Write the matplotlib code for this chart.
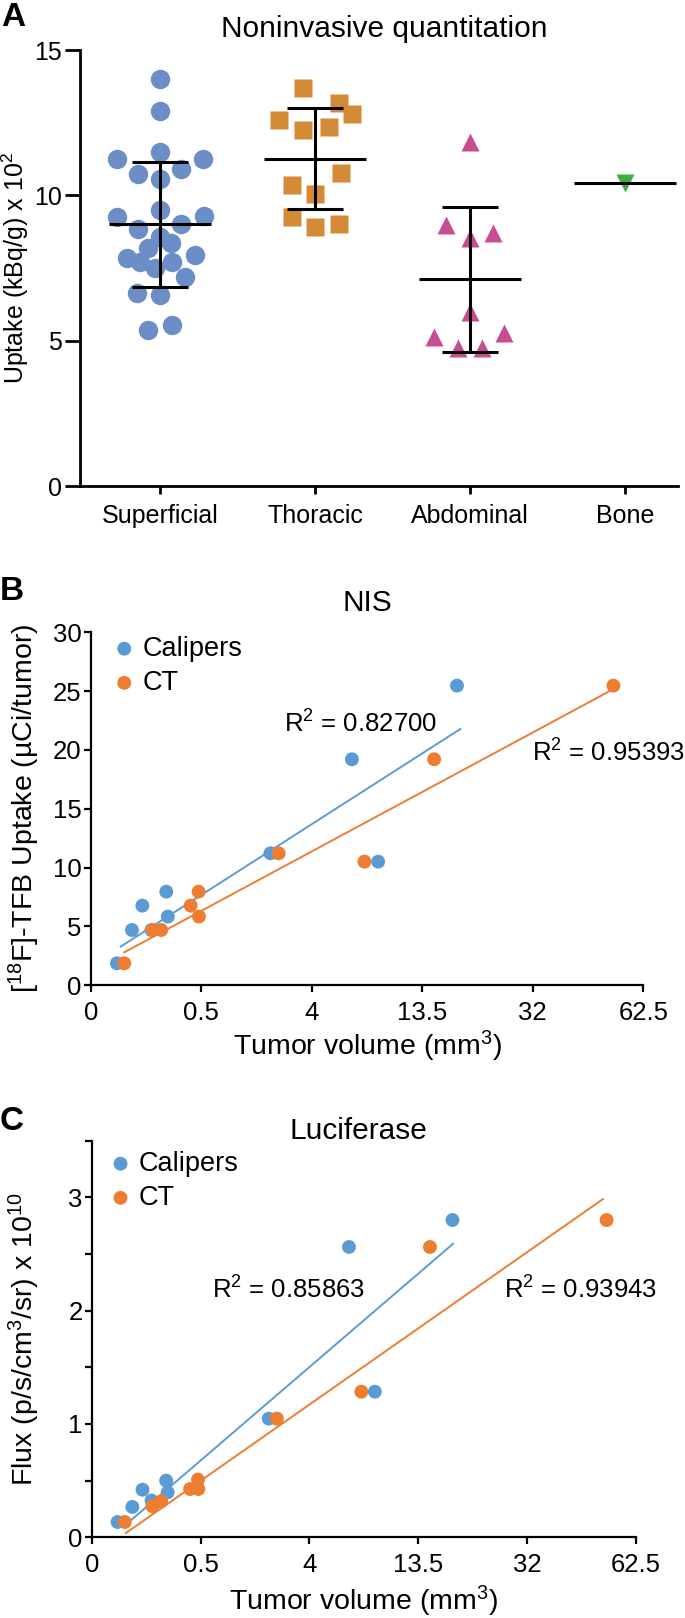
import numpy as np
import matplotlib
matplotlib.use('Agg')
import matplotlib.pyplot as plt

plt.rcParams['font.family'] = ['Liberation Sans', 'DejaVu Sans']
plt.rcParams['mathtext.fontset'] = 'custom'
plt.rcParams['mathtext.rm'] = 'Liberation Sans'
plt.rcParams['mathtext.it'] = 'Liberation Sans:italic'
plt.rcParams['mathtext.bf'] = 'Liberation Sans:bold'

# ---- panel A: uptake per site (kBq/g x 10^2) ----
groups = ['Superficial', 'Thoracic', 'Abdominal', 'Bone']
superficial = [14.0, 12.9, 11.5, 11.24, 11.24, 10.73, 10.89, 10.55, 9.26, 9.49, 9.29,
               8.83, 9.01, 8.58, 8.35, 8.18, 7.83, 7.72, 7.49, 7.72, 7.95, 7.2,
               6.63, 6.57, 5.54, 5.37]
thoracic = [13.68, 13.19, 12.8, 12.59, 12.25, 12.36, 10.76, 10.35, 10.03, 9.26, 8.92, 9.01]
abdominal = [11.83, 8.99, 8.53, 8.71, 6.0, 5.13, 5.27, 4.75, 4.75]
bone = [10.41]

# horizontal scatter of the points inside each column (category units)
superficial_dx = [0, 0, 0, -0.275, 0.275, -0.14, 0.135, 0, -0.275, 0, 0.286,
                  -0.14, 0.135, 0, 0.07, -0.075, -0.215, -0.13, -0.03, 0.08, 0.225, 0.16,
                  -0.15, 0, 0.075, -0.075]
thoracic_dx = [-0.076, 0.154, 0.24, -0.234, -0.076, 0.09, 0.165, -0.147, 0.003, -0.147, 0.003, 0.154]
abdominal_dx = [0, -0.155, 0, 0.146, 0, -0.234, 0.221, -0.08, 0.075]
bone_dx = [0]

# ---- panels B and C: uptake / flux vs tumor volume (mm^3) ----
vol_calipers = [0.0067, 0.026, 0.051, 0.083, 0.16, 0.17, 2.15, 6.6, 8.8, 18.2]
vol_ct = [0.014, 0.087, 0.13, 0.37, 0.465, 0.47, 2.46, 7.6, 15.0, 52.9]
nis_calipers = [1.87, 4.70, 6.77, 4.70, 7.96, 5.84, 11.22, 19.21, 10.51, 25.47]
nis_ct = [1.87, 4.70, 4.70, 6.77, 7.96, 5.84, 11.22, 10.51, 19.21, 25.47]
luc_calipers = [0.135, 0.268, 0.42, 0.324, 0.5, 0.397, 1.047, 2.562, 1.285, 2.8]
luc_ct = [0.135, 0.274, 0.318, 0.426, 0.509, 0.426, 1.047, 1.285, 2.562, 2.8]

# trend line end points (volume, value)
nis_fit_calipers = ([0.010, 18.7], [3.29, 21.78])
nis_fit_ct = ([0.014, 52.4], [2.80, 25.1])
luc_fit_calipers = ([0.013, 18.3], [0.097, 2.591])
luc_fit_ct = ([0.0156, 51.8], [0.038, 2.985])

vol_ticks = [0, 0.5, 4, 13.5, 32, 62.5]
vol_ticklabels = ['0', '0.5', '4', '13.5', '32', '62.5']

blue = '#5B9BD5'
orange = '#ED7D31'

fig = plt.figure(figsize=(6.85, 16.18), dpi=100)
W, H = 685.0, 1618.0


def rect(left, top, right, bottom):
    return [left / W, 1 - bottom / H, (right - left) / W, (bottom - top) / H]


# ================= A =================
axA = fig.add_axes(rect(80, 50, 678, 486))
series = [superficial, thoracic, abdominal, bone]
offsets = [superficial_dx, thoracic_dx, abdominal_dx, bone_dx]
markers = ['o', 's', '^', 'v']
colorsA = ['#6C8EC7', '#D48B37', '#C84C92', '#3FAE45']
msizes = [14, 13.6, 13.2, 13.2]
for i, (vals, dx) in enumerate(zip(series, offsets)):
    axA.plot(i + np.array(dx), vals, ls='none', marker=markers[i], ms=msizes[i],
             mfc=colorsA[i], mec='none', zorder=2, clip_on=False)
    m = np.mean(vals)
    axA.hlines(m, i - 0.33, i + 0.33, color='black', lw=2.2, zorder=3, clip_on=False)
    if len(vals) > 1:
        sd = np.std(vals, ddof=1)
        axA.vlines(i, m - sd, m + sd, color='black', lw=2.2, zorder=3)
        axA.hlines([m - sd, m + sd], i - 0.18, i + 0.18, color='black', lw=2.2, zorder=3)

axA.set_xlim(-0.516, 3.342)
axA.set_ylim(0, 15)
axA.set_yticks([0, 5, 10, 15])
axA.set_xticks(range(len(groups)))
axA.set_xticklabels(groups)
for s in ['top', 'right']:
    axA.spines[s].set_visible(False)
for s in ['left', 'bottom']:
    axA.spines[s].set_linewidth(2)
axA.tick_params(axis='y', length=10.8, width=2, pad=2, labelsize=18)
axA.tick_params(axis='x', length=5.8, width=2, pad=7, labelsize=18)
axA.set_ylabel('Uptake (kBq/g) x 10$^{2}$', fontsize=18, va='center')
axA.yaxis.set_label_coords(-0.108, 0.5)
axA.text(0.508, 1.048, 'Noninvasive quantitation', transform=axA.transAxes,
         ha='center', va='center', fontsize=21.5)


# ================= B and C =================
def cube_fwd(v):
    return np.cbrt(2 * np.asarray(v, dtype=float))


def cube_inv(p):
    return np.asarray(p, dtype=float) ** 3 / 2


def volume_panel(ax, y_cal, y_ct, fit_cal, fit_ct):
    ax.set_xscale('function', functions=(cube_fwd, cube_inv))
    ax.plot(fit_cal[0], fit_cal[1], color=blue, lw=1.4, zorder=2)
    ax.plot(fit_ct[0], fit_ct[1], color=orange, lw=1.4, zorder=2)
    ax.scatter(vol_calipers, y_cal, s=100, color=blue, edgecolors='none', zorder=3,
               label='Calipers', clip_on=False)
    ax.scatter(vol_ct, y_ct, s=100, color=orange, edgecolors='none', zorder=4,
               label='CT', clip_on=False)
    ax.set_xlim(0, 62.5)
    ax.set_xticks(vol_ticks)
    ax.set_xticklabels(vol_ticklabels)
    for s in ['top', 'right']:
        ax.spines[s].set_visible(False)
    for s in ['left', 'bottom']:
        ax.spines[s].set_linewidth(1.6)
    ax.tick_params(axis='y', length=5, width=1.6, pad=1.5, labelsize=18.5)
    ax.tick_params(axis='x', length=5, width=1.6, pad=6, labelsize=18.5)
    ax.set_xlabel('Tumor volume (mm$^{3}$)', fontsize=20.5, va='center')


axB = fig.add_axes(rect(90.7, 632.3, 643.3, 985.3))
volume_panel(axB, nis_calipers, nis_ct, nis_fit_calipers, nis_fit_ct)
axB.set_ylim(0, 30)
axB.set_yticks(range(0, 31, 5))
axB.set_ylabel('[$^{18}$F]-TFB Uptake (µCi/tumor)', fontsize=20.5, va='center')
axB.yaxis.set_label_coords(-0.12, 0.5)
axB.xaxis.set_label_coords(0.5, -0.174)
axB.text(0.501, 1.083, 'NIS', transform=axB.transAxes, ha='center', va='center', fontsize=21.5)
axB.text(0.35, 0.74, 'R$^{2}$ = 0.82700', transform=axB.transAxes, ha='left', va='center', fontsize=18.5)
axB.text(0.798, 0.657, 'R$^{2}$ = 0.95393', transform=axB.transAxes, ha='left', va='center',
         fontsize=18.5, clip_on=False)
axB.legend(loc='upper left', bbox_to_anchor=(0.046, 0.99), frameon=False, fontsize=19.5,
           handlelength=0.6, handletextpad=0.38, borderpad=0, borderaxespad=0,
           labelspacing=0.3, scatterpoints=1)

axC = fig.add_axes(rect(91.7, 1140.7, 636, 1537.3))
volume_panel(axC, luc_calipers, luc_ct, luc_fit_calipers, luc_fit_ct)
axC.set_ylim(0, 3.5)
axC.set_yticks(np.arange(0, 3.51, 0.5))
axC.set_yticklabels(['0', '', '1', '', '2', '', '3', ''])
axC.set_ylabel('Flux (p/s/cm$^{3}$/sr) x 10$^{10}$', fontsize=20.5, va='center')
axC.yaxis.set_label_coords(-0.124, 0.5)
axC.xaxis.set_label_coords(0.5, -0.161)
axC.text(0.49, 1.024, 'Luciferase', transform=axC.transAxes, ha='center', va='center', fontsize=21.5)
axC.text(0.2216, 0.624, 'R$^{2}$ = 0.85863', transform=axC.transAxes, ha='left', va='center', fontsize=18.5)
axC.text(0.758, 0.624, 'R$^{2}$ = 0.93943', transform=axC.transAxes, ha='left', va='center', fontsize=18.5)
axC.legend(loc='upper left', bbox_to_anchor=(0.038, 0.9745), frameon=False, fontsize=19.5,
           handlelength=0.6, handletextpad=0.38, borderpad=0, borderaxespad=0,
           labelspacing=0.3, scatterpoints=1)

# panel letters
fig.text(1 / W, 1 - 17 / H, 'A', fontsize=24, fontweight='bold', ha='left', va='center')
fig.text(0 / W, 1 - 591 / H, 'B', fontsize=24, fontweight='bold', ha='left', va='center')
fig.text(0 / W, 1 - 1122 / H, 'C', fontsize=24, fontweight='bold', ha='left', va='center')

fig.savefig('out.png', dpi=100)
